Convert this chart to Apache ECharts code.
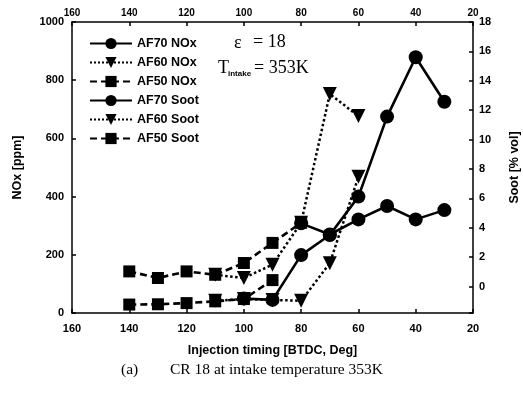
<!DOCTYPE html>
<html>
<head>
<meta charset="utf-8">
<script src="https://cdn.jsdelivr.net/npm/echarts@6/dist/echarts.min.js"></script>
<style>
  html, body { margin: 0; padding: 0; background: #fff; }
  #chart { width: 523px; height: 393px; }
</style>
</head>
<body>
<div id="chart"></div>
<script>
// injection timing, deg BTDC
const timing = [140, 130, 120, 110, 100, 90, 80, 70, 60, 50, 40, 30];

// NOx [ppm], left axis
const af70Nox = [null, null, null, null, 50, 45, 199, 268, 400, 675, 879, 726];
const af60Nox = [null, null, null, 42, 48, 45, 42, 171, 468, null, null, null];
const af50Nox = [29, 30, 34, 40, 48, 113, null, null, null, null, null, null];

// Soot [% vol], right axis
const af70Soot = [null, null, null, null, null, null, 4.3, 3.54, 4.57, 5.48, 4.57, 5.2];
const af60Soot = [null, null, null, 0.8, 0.58, 1.49, 4.34, 13.1, 11.6, null, null, null];
const af50Soot = [1.03, 0.58, 1.03, 0.8, 1.6, 2.97, 4.34, null, null, null, null, null];

const pairs = vals => timing.map((t, i) => [t, vals[i]]).filter(p => p[1] != null);

const chart = echarts.init(document.getElementById('chart'), null, { renderer: 'canvas' });

const axisFont = { color: '#000', fontFamily: 'Liberation Sans', fontWeight: 'bold', fontSize: 11 };
const nameFont = { color: '#000', fontFamily: 'Liberation Sans', fontWeight: 'bold', fontSize: 12.5 };
const black = { color: '#000', width: 1.5 };

function mkSeries(name, vals, symbol, lineType, yIdx) {
    return {
        name: name,
        type: 'line',
        xAxisIndex: 0,
        yAxisIndex: yIdx,
        data: pairs(vals),
        symbol: symbol,
        symbolSize: symbol === 'rect' ? 12 : 14,
        symbolRotate: symbol === 'triangle' ? 180 : 0,
        itemStyle: { color: '#000' },
        lineStyle: { color: '#000', width: lineType === 'dotted' ? 2.5 : 2.6, type: lineType }
    };
}

const option = {
    backgroundColor: '#fff',
    animation: false,
    grid: { left: 72, right: 50, top: 22, bottom: 80, outerBoundsMode: 'none' },
    legend: {
        orient: 'vertical',
        left: 84,
        top: 32,
        itemWidth: 42,
        itemHeight: 14,
        itemGap: 6,
        textStyle: { color: '#000', fontFamily: 'Liberation Sans', fontWeight: 'bold', fontSize: 12.5 },
        data: ['AF70 NOx', 'AF60 NOx', 'AF50 NOx', 'AF70 Soot', 'AF60 Soot', 'AF50 Soot']
    },
    xAxis: [
        {
            type: 'value', min: 20, max: 160, interval: 20, inverse: true,
            position: 'bottom',
            name: 'Injection timing [BTDC, Deg]',
            nameLocation: 'middle', nameGap: 31,
            nameTextStyle: nameFont,
            axisLine: { onZero: false, lineStyle: black },
            axisTick: { inside: true, length: 4, lineStyle: black },
            axisLabel: Object.assign({ margin: 10 }, axisFont),
            splitLine: { show: false }
        },
        {
            type: 'value', min: 20, max: 160, interval: 20, inverse: true,
            position: 'top',
            axisLine: { onZero: false, lineStyle: black },
            axisTick: { inside: true, length: 4, lineStyle: black },
            axisLabel: Object.assign({ margin: 4 }, axisFont, { fontSize: 10 }),
            splitLine: { show: false }
        }
    ],
    yAxis: [
        {
            type: 'value', min: 0, max: 1000, interval: 200,
            position: 'left',
            name: 'NOx [ppm]',
            nameLocation: 'middle', nameGap: 48, nameRotate: 90,
            nameTextStyle: nameFont,
            axisLine: { show: true, onZero: false, lineStyle: black },
            axisTick: { show: true, inside: true, length: 4, lineStyle: black },
            axisLabel: Object.assign({ margin: 8, formatter: v => String(v) }, axisFont),
            splitLine: { show: false }
        },
        {
            type: 'value', min: -1.8, max: 18, splitNumber: 10,
            position: 'right',
            name: 'Soot [% vol]',
            nameLocation: 'middle', nameGap: 35, nameRotate: 90,
            nameTextStyle: nameFont,
            axisLine: { show: true, onZero: false, lineStyle: black },
            axisTick: { show: true, inside: true, length: 4, lineStyle: black },
            axisLabel: Object.assign({
                margin: 6,
                formatter: v => (v < 0 ? '' : String(v))
            }, axisFont),
            splitLine: { show: false }
        }
    ],
    graphic: [
        {
            type: 'text', left: 234, top: 34,
            style: { text: 'ε', font: '18px "Liberation Serif"', fill: '#000' }
        },
        {
            type: 'text', left: 253, top: 33,
            style: { text: '= 18', font: '18px "Liberation Serif"', fill: '#000' }
        },
        {
            type: 'text', left: 218, top: 59,
            style: { text: 'T', font: '18px "Liberation Serif"', fill: '#000' }
        },
        {
            type: 'text', left: 228, top: 70,
            style: { text: 'intake', font: 'bold 8px "Liberation Sans"', fill: '#000' }
        },
        {
            type: 'text', left: 254, top: 59,
            style: { text: '= 353K', font: '18px "Liberation Serif"', fill: '#000' }
        },
        {
            type: 'text', left: 121, top: 362,
            style: { text: '(a)', font: '15.5px "Liberation Serif"', fill: '#000' }
        },
        {
            type: 'text', left: 170, top: 362,
            style: { text: 'CR 18 at intake temperature 353K', font: '15.5px "Liberation Serif"', fill: '#000' }
        }
    ],
    series: [
        mkSeries('AF70 NOx', af70Nox, 'circle', 'solid', 0),
        mkSeries('AF60 NOx', af60Nox, 'triangle', 'dotted', 0),
        mkSeries('AF50 NOx', af50Nox, 'rect', [7, 4], 0),
        mkSeries('AF70 Soot', af70Soot, 'circle', 'solid', 1),
        mkSeries('AF60 Soot', af60Soot, 'triangle', 'dotted', 1),
        mkSeries('AF50 Soot', af50Soot, 'rect', [7, 4], 1)
    ]
};

chart.setOption(option);
</script>
</body>
</html>
